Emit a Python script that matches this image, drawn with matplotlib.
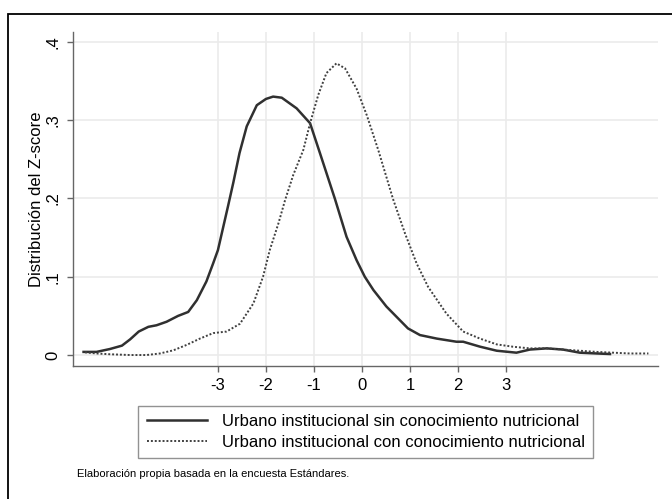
import numpy as np
import matplotlib
matplotlib.use("Agg")
import matplotlib.pyplot as plt
from matplotlib.patches import Rectangle

plt.rcParams['font.family'] = ['Liberation Sans', 'DejaVu Sans']

# Densidad del Z-score: sin conocimiento nutricional
x_sin = [-5.80, -5.53, -5.25, -5.00, -4.83, -4.65, -4.45, -4.28, -4.07, -3.83,
         -3.62, -3.44, -3.24, -3.10, -3.00, -2.79, -2.68, -2.55, -2.40, -2.19,
         -2.00, -1.85, -1.67, -1.36, -1.08, -0.875, -0.56, -0.32, -0.11, 0.06,
         0.24, 0.51, 0.96, 1.21, 1.56, 1.97, 2.11, 2.46, 2.81, 3.22, 3.50,
         3.85, 4.19, 4.54, 4.89, 5.17]
y_sin = [0.004, 0.004, 0.0077, 0.012, 0.020, 0.030, 0.036, 0.038, 0.0425, 0.050,
         0.055, 0.070, 0.094, 0.117, 0.134, 0.190, 0.220, 0.258, 0.292, 0.319,
         0.327, 0.330, 0.3286, 0.315, 0.296, 0.258, 0.199, 0.151, 0.121, 0.100,
         0.083, 0.062, 0.034, 0.0255, 0.021, 0.017, 0.017, 0.0107, 0.0055, 0.003, 0.007,
         0.0085, 0.007, 0.003, 0.002, 0.0013]

# Densidad del Z-score: con conocimiento nutricional
x_con = [-5.77, -5.53, -5.25, -4.83, -4.49, -4.21, -3.93, -3.65, -3.375, -3.10,
         -2.82, -2.54, -2.26, -2.06, -1.92, -1.74, -1.60, -1.43, -1.22, -1.08,
         -0.91, -0.74, -0.53, -0.35, -0.11, 0.10, 0.34, 0.65, 0.90, 1.14,
         1.38, 1.76, 2.11, 2.46, 2.81, 3.15, 3.50, 3.85, 4.19, 4.54,
         4.89, 5.24, 5.58, 5.97]
y_con = [0.0034, 0.002, 0.001, 0.0, 0.0, 0.002, 0.006, 0.013, 0.021, 0.028,
         0.030, 0.040, 0.066, 0.100, 0.134, 0.168, 0.198, 0.230, 0.262, 0.296,
         0.332, 0.360, 0.3725, 0.366, 0.340, 0.3065, 0.262, 0.199, 0.155, 0.117,
         0.087, 0.053, 0.030, 0.021, 0.0136, 0.0106, 0.0085, 0.0085, 0.007, 0.0055,
         0.004, 0.003, 0.002, 0.002]

xticks = [-3, -2, -1, 0, 1, 2, 3]
xtick_labels = ['-3', '-2', '-1', '0', '1', '2', '3']
yticks = [0, 0.1, 0.2, 0.3, 0.4]
ytick_labels = ['0', '.1', '.2', '.3', '.4']

labels = ['Urbano institucional sin conocimiento nutricional',
          'Urbano institucional con conocimiento nutricional']

fig = plt.figure(figsize=(6.72, 4.99), dpi=100)
ax = fig.add_axes([73/672, 1-366/499, (658-73)/672, (366-32)/499])

ax.plot(x_sin, y_sin, color='#303030', lw=1.8, label=labels[0])
ax.plot(x_con, y_con, color='#404040', lw=1.4, ls=(0, (1, 1)), label=labels[1])

ax.set_xlim(-6.02, 6.17)
ax.set_ylim(-0.014, 0.4125)
ax.set_xticks(xticks)
ax.set_xticklabels(xtick_labels, fontsize=12)
ax.set_yticks(yticks)
ax.set_yticklabels(ytick_labels, fontsize=12, rotation=90, va='center')
ax.set_ylabel('Distribución del Z-score', fontsize=12, labelpad=1)

ax.grid(True, color='#ebebeb', lw=1.2)
ax.set_axisbelow(True)
for s in ['top', 'right']:
    ax.spines[s].set_visible(False)
for s in ['left', 'bottom']:
    ax.spines[s].set_color('#666666')
    ax.spines[s].set_linewidth(1.0)
ax.tick_params(colors='#666666', labelcolor='black', length=4, width=1.0)
ax.tick_params(axis='x', pad=5)
ax.tick_params(axis='y', pad=5)

fig.legend(loc='center', bbox_to_anchor=((134+597)/2/672, 1-432/499),
           fontsize=12, frameon=True, fancybox=False, edgecolor='#777777',
           handlelength=3.65, handletextpad=0.85, borderpad=0.5, labelspacing=0.35)

fig.text(77/672, 1-474/499, 'Elaboración propia basada en la encuesta Estándares.',
         fontsize=8, va='center', ha='left')

fig.patches.append(Rectangle((8/672, -0.1), 1.2, 1-14/499+0.1, fill=False,
                             edgecolor='black', lw=1.3, transform=fig.transFigure))

fig.savefig('out.png', dpi=100)
